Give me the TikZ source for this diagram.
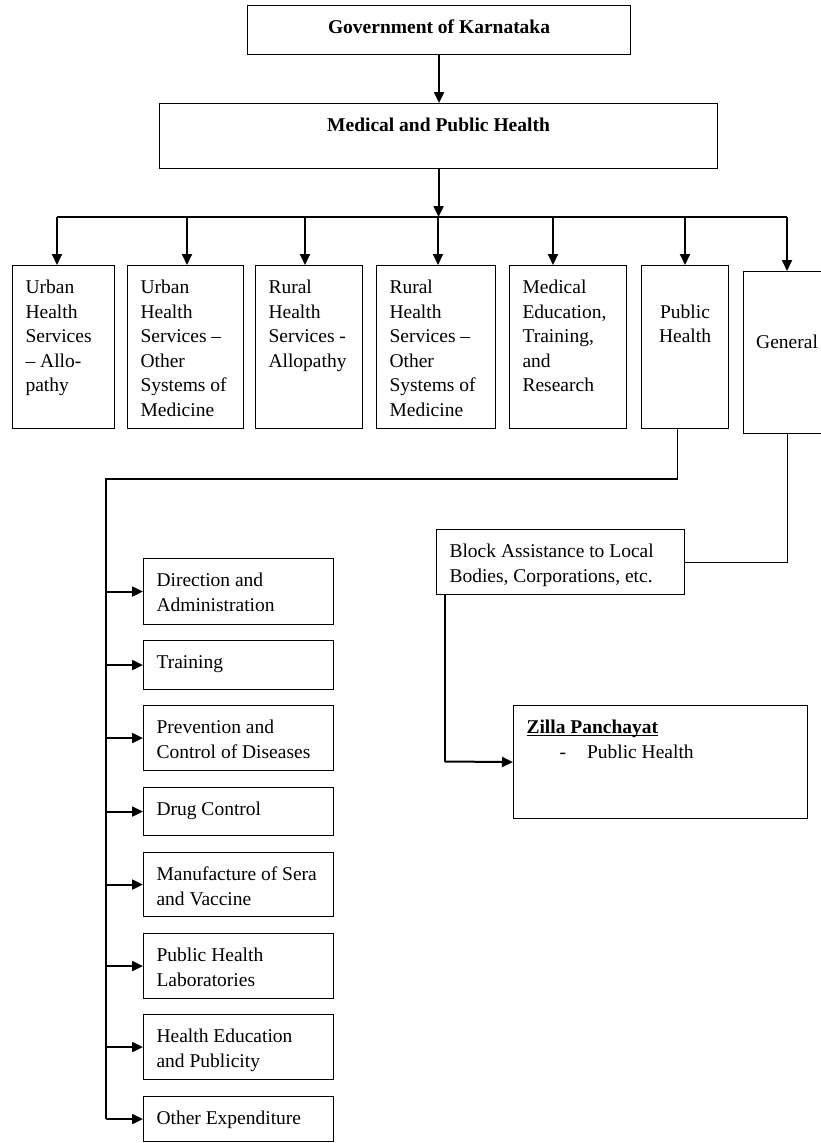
\documentclass[tikz,border=0pt]{standalone}
\usepackage{fontspec}
\setmainfont{Liberation Serif}
\usetikzlibrary{arrows.meta}

\newcommand{\ltxt}[3]{\hspace*{13pt}\parbox[t][#2][t]{\dimexpr#1-13pt\relax}{\raggedright\rule{0pt}{28pt}#3}}
\newcommand{\ctxt}[3]{\parbox[t][#2][t]{#1}{\centering\rule{0pt}{28pt}#3}}
\newcommand{\undl}[1]{\setbox0\hbox{#1}\rlap{\rule[-2.5pt]{\wd0}{1.3pt}}\box0}

\begin{document}
\begin{tikzpicture}[x=1pt,y=-1pt,
    font=\fontsize{19.5}{24.5}\selectfont,
    box/.style={draw,line width=1.1pt,inner sep=0pt,anchor=north west},
    arr/.style={line width=2pt,-{Triangle[length=11pt,width=10pt]}},
    link/.style={line width=1.1pt}]
    \useasboundingbox (0,0) rectangle (820,1143);
    % top of the tree
    \node [box] (gok) at (247,5)   {\ctxt{383pt}{49pt}{\textbf{Government of Karnataka}}};
    \node [box] (mph) at (159,103) {\ctxt{558pt}{65pt}{\textbf{Medical and Public Health}}};
    \draw [arr] (gok.south) -- (gok.south |- mph.north);
    % heads of account
    \node [box] (uhsa) at (12,265)  {\ltxt{102pt}{163pt}{Urban\\Health\\Services\\– Allo-\\pathy}};
    \node [box] (uhso) at (127,265) {\ltxt{116pt}{163pt}{Urban\\Health\\Services –\\Other\\Systems of\\Medicine}};
    \node [box] (rhsa) at (255,265) {\ltxt{107pt}{163pt}{Rural\\Health\\Services -\\Allopathy}};
    \node [box] (rhso) at (376,265) {\ltxt{119pt}{163pt}{Rural\\Health\\Services –\\Other\\Systems of\\Medicine}};
    \node [box] (metr) at (509,265) {\ltxt{117pt}{163pt}{Medical\\Education,\\Training,\\and\\Research}};
    \node [box] (pubh) at (641,265) {\ctxt{87pt}{163pt}{\\Public\\Health}};
    \node [box] (genl) at (743,271) {\ctxt{87pt}{162pt}{\\[24.5pt]General}};
    \foreach \x [count=\i] in {57,187,305,438,553,685,787}
        \coordinate (t\i) at (\x,217);
    \draw [link] (t1) -- (t7);
    \draw [arr] (mph.south) -- (mph.south |- t1);
    \foreach \b [count=\i] in {uhsa,uhso,rhsa,rhso,metr,pubh,genl}
        \draw [arr] (t\i) -- (t\i |- \b.north);
    % public health branches
    \foreach \nm/\y/\h/\t in {dira/558/66/{Direction and\\Administration},
                             trng/640/49/{Training},
                             prev/705/65/{Prevention and\\Control of Diseases},
                             drug/787/48/{Drug Control},
                             manu/852/64/{Manufacture of Sera\\and Vaccine},
                             phl/933/65/{Public Health\\Laboratories},
                             hedu/1014/65/{Health Education\\and Publicity},
                             othr/1096/45/{Other Expenditure}}
        \node [box] (\nm) at (143,\y) {\ltxt{190pt}{\h pt}{\t}};
    \coordinate (sp) at (106,479);
    \draw [link] ([xshift=-7.5pt]pubh.south) |- (sp) -- (sp |- othr.west);
    \foreach \b in {dira,trng,prev,drug,manu,phl,hedu,othr}
        \draw [arr] (sp |- \b.west) -- (\b.west);
    % general branch
    \node [box] (blk) at (436,529) {\ltxt{248pt}{65pt}{Block Assistance to Local\\Bodies, Corporations, etc.}};
    \node [box] (zp) at (513,705)  {\ltxt{294pt}{113pt}{\undl{\textbf{Zilla Panchayat}}\\\hspace*{33pt}-\hspace{21pt}Public Health}};
    \draw [link] (genl.south) |- (blk.east);
    \coordinate (bz) at (445,761.5);
    \draw [link] (bz |- blk.south) -- (bz);
    \draw [arr] (bz) -- (zp.west);
\end{tikzpicture}
\end{document}
